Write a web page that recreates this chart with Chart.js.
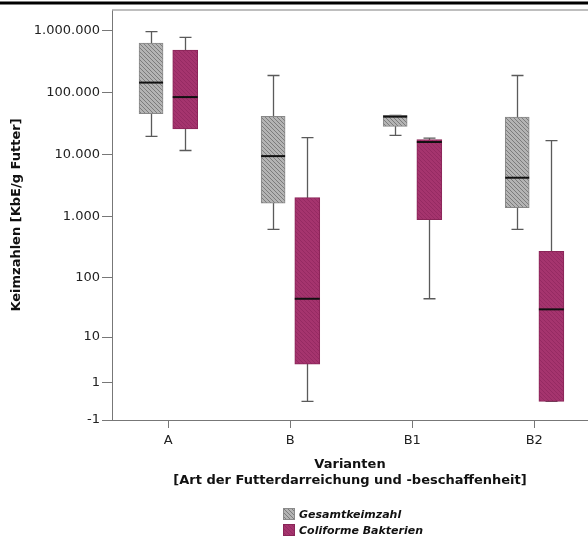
<!DOCTYPE html>
<html>
<head>
<meta charset="utf-8">
<script src="https://cdn.jsdelivr.net/npm/chart.js@4.4.1/dist/chart.umd.min.js"></script>
<style>
  html, body { margin: 0; padding: 0; background: #fff; }
  #wrap { position: relative; width: 588px; height: 540px; }
  #legend { position: absolute; left: 283px; top: 506px; font-family: "DejaVu Sans", sans-serif; font-weight: bold; font-style: oblique; font-size: 11px; color: #111; }
  .item { display: flex; align-items: center; height: 16px; }
  .sw { width: 12px; height: 12px; margin-right: 4px; box-sizing: border-box; }
</style>
</head>
<body>
<div id="wrap">
  <canvas id="c" width="588" height="540"></canvas>
  <div id="legend">
    <div class="item"><canvas class="sw" id="sw0" width="12" height="12"></canvas><span>Gesamtkeimzahl</span></div>
    <div class="item"><canvas class="sw" id="sw1" width="12" height="12"></canvas><span>Coliforme Bakterien</span></div>
  </div>
</div>
<script>
// ---- data (Keimzahlen, KbE/g Futter) ----
const categories = ['A', 'B', 'B1', 'B2'];
const seriesNames = ['Gesamtkeimzahl', 'Coliforme Bakterien'];

const gesamtMin    = [19600,   610,  20400,   610];
const gesamtQ1     = [46000,  1620,  28500,  1370];
const gesamtMedian = [146000, 9400,  41000,  4200];
const gesamtQ3     = [640000, 41500, 43000, 40500];
const gesamtMax    = [980000, 190000, 43000, 190000];

const coliMin    = [11600,  0,     45,    0];
const coliQ1     = [26000,  3,     880,   0];
const coliMedian = [85000,  45,    15900, 30];
const coliQ3     = [490000, 2000,  17400, 270];
const coliMax    = [790000, 18700, 18400, 16700];

const tickValues = [-1, 1, 10, 100, 1000, 10000, 100000, 1000000];
const tickLabels = ['-1', '1', '10', '100', '1.000', '10.000', '100.000', '1.000.000'];

// SPSS "safe log" axis transform
const T = v => Math.sign(v) * Math.log10(Math.abs(v) + 1);

// ---- patterns ----
function grayPattern(ctx) {
  const p = document.createElement('canvas'); p.width = 4; p.height = 4;
  const g = p.getContext('2d');
  g.fillStyle = '#b4b4b4'; g.fillRect(0, 0, 4, 4);
  g.fillStyle = '#7c7c7c';
  for (let i = 0; i < 4; i++) g.fillRect(i, i, 1, 1);
  return ctx.createPattern(p, 'repeat');
}
function coliPattern(ctx) {
  const p = document.createElement('canvas'); p.width = 4; p.height = 4;
  const g = p.getContext('2d');
  g.fillStyle = '#a5346e'; g.fillRect(0, 0, 4, 4);
  g.fillStyle = '#952a62';
  for (let i = 0; i < 4; i++) g.fillRect(i, i, 1, 1);
  return ctx.createPattern(p, 'repeat');
}

const ctx = document.getElementById('c').getContext('2d');
const gPat = grayPattern(ctx), cPat = coliPattern(ctx);

// legend swatches
[['sw0', grayPattern, '#8a8a8a'], ['sw1', coliPattern, '#8a2558']].forEach(([id, fn, bc]) => {
  const s = document.getElementById(id).getContext('2d');
  s.fillStyle = fn(s); s.fillRect(0, 0, 12, 12);
  s.strokeStyle = bc; s.lineWidth = 1; s.strokeRect(0.5, 0.5, 11, 11);
});

const OFF = 0.14;
const stats = [
  { min: gesamtMin, q1: gesamtQ1, med: gesamtMedian, q3: gesamtQ3, max: gesamtMax },
  { min: coliMin, q1: coliQ1, med: coliMedian, q3: coliQ3, max: coliMax }
];

const boxPlugin = {
  id: 'boxparts',
  beforeDatasetsDraw(chart) {
    const c = chart.ctx, y = chart.scales.y;
    c.save();
    c.strokeStyle = '#5a5a5a'; c.lineWidth = 1.3;
    stats.forEach((s, d) => {
      chart.getDatasetMeta(d).data.forEach((el, i) => {
        const x = Math.round(el.x) + 0.5;
        const yMin = y.getPixelForValue(T(s.min[i])), yMax = y.getPixelForValue(T(s.max[i]));
        const hw = 6;
        c.beginPath();
        c.moveTo(x, yMin); c.lineTo(x, yMax);
        c.moveTo(x - hw, yMin); c.lineTo(x + hw, yMin);
        c.moveTo(x - hw, yMax); c.lineTo(x + hw, yMax);
        c.stroke();
      });
    });
    c.restore();
  },
  afterDatasetsDraw(chart) {
    const c = chart.ctx, y = chart.scales.y;
    c.save();
    c.strokeStyle = '#111'; c.lineWidth = 2;
    stats.forEach((s, d) => {
      chart.getDatasetMeta(d).data.forEach((el, i) => {
        const ym = y.getPixelForValue(T(s.med[i]));
        c.beginPath();
        c.moveTo(el.x - el.width / 2, ym); c.lineTo(el.x + el.width / 2, ym);
        c.stroke();
      });
    });
    c.restore();
  },
  afterDraw(chart) {
    const c = chart.ctx, a = chart.chartArea;
    c.save();
    c.fillStyle = '#000'; c.fillRect(0, 1.5, chart.width, 3);
    c.strokeStyle = '#a8a8a8'; c.lineWidth = 1.5;
    c.beginPath(); c.moveTo(a.left, a.top); c.lineTo(a.right, a.top); c.stroke();
    c.restore();
  }
};

new Chart(ctx, {
  type: 'bar',
  data: {
    datasets: [
      {
        label: seriesNames[0],
        data: categories.map((c, i) => ({ x: i - OFF, y: [T(gesamtQ1[i]), T(gesamtQ3[i])] })),
        backgroundColor: gPat, borderColor: '#888', borderWidth: 1, borderSkipped: false,
        grouped: false, barThickness: 24
      },
      {
        label: seriesNames[1],
        data: categories.map((c, i) => ({ x: i + OFF, y: [T(coliQ1[i]), T(coliQ3[i])] })),
        backgroundColor: cPat, borderColor: '#8a2558', borderWidth: 1, borderSkipped: false,
        grouped: false, barThickness: 25
      }
    ]
  },
  options: {
    responsive: false, animation: false, devicePixelRatio: 1,
    layout: { padding: { top: 10, bottom: 51, left: 0, right: 0 } },
    plugins: { legend: { display: false }, tooltip: { enabled: false } },
    scales: {
      x: {
        type: 'linear', min: -0.46, max: 3.44, offset: false,
        afterBuildTicks: s => { s.ticks = categories.map((c, i) => ({ value: i })); },
        afterFit: s => { s.height = 69; },
        grid: { display: true, offset: false, drawOnChartArea: false, drawTicks: true, tickLength: 8, color: '#777' },
        border: { display: true, color: '#777', width: 1 },
        ticks: {
          padding: 5, color: '#222', font: { family: 'DejaVu Sans', size: 13 },
          callback: (v) => categories[Math.round(v)]
        },
        title: {
          display: true, text: ['Varianten', '[Art der Futterdarreichung und -beschaffenheit]'],
          color: '#111', font: { family: 'DejaVu Sans', size: 13, weight: 'bold', lineHeight: 1.25 },
          padding: { top: 0, bottom: 0 }
        }
      },
      y: {
        type: 'linear', min: T(-1), max: 6.34,
        afterBuildTicks: s => { s.ticks = tickValues.map(v => ({ value: T(v) })); },
        afterFit: s => { s.width = 112; },
        grid: { display: true, drawOnChartArea: false, drawTicks: true, tickLength: 10, color: '#777' },
        border: { display: true, color: '#777', width: 1 },
        ticks: {
          padding: 2, color: '#222', font: { family: 'DejaVu Sans', size: 13 },
          callback: (v, idx) => tickLabels[idx]
        },
        title: {
          display: true, text: 'Keimzahlen [KbE/g Futter]',
          color: '#111', font: { family: 'DejaVu Sans', size: 13, weight: 'bold' },
          padding: { top: 9, bottom: 0 }
        }
      }
    }
  },
  plugins: [boxPlugin]
});
</script>
</body>
</html>
